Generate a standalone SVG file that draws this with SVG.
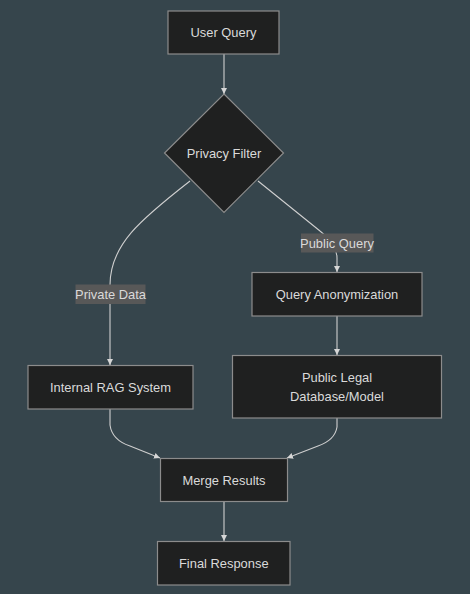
<svg xmlns="http://www.w3.org/2000/svg" width="470" height="594" viewBox="0 0 470 594">
<defs>
<style>
.node rect,.node polygon{fill:#1f2020;stroke:#8c8c8c;stroke-width:1.2}
.lbl{font-family:"Liberation Sans",Arial,sans-serif;font-size:12.9px;fill:#dadada;text-anchor:middle;dominant-baseline:central}
.edge{fill:none;stroke:#cfcfcf;stroke-width:1.1}
.elbl rect{fill:#585858}
</style>
<marker id="arr" viewBox="0 0 10 10" refX="10" refY="5" markerWidth="6" markerHeight="6" orient="auto" markerUnits="userSpaceOnUse">
<path d="M0,0 L10,5 L0,10 z" fill="#d6d6d6"/>
</marker>
</defs>
<rect width="470" height="594" fill="#36454c"/>
<g id="connectors">
<path class="edge" d="M224,54 L224,94" marker-end="url(#arr)"/>
<path class="edge" d="M190,181 C140,220 110,245 110,285 L110,365" marker-end="url(#arr)"/>
<path class="edge" d="M258,181 L320,231 Q337,244 337,258 L337,272" marker-end="url(#arr)"/>
<path class="edge" d="M337,316 L337,355" marker-end="url(#arr)"/>
<path class="edge" d="M110,409 L110,425 Q112,440 130,446 L160,458" marker-end="url(#arr)"/>
<path class="edge" d="M337,418 L337,427 Q335,440 318,446 L287,458" marker-end="url(#arr)"/>
<path class="edge" d="M224,502 L224,541" marker-end="url(#arr)"/>
<g class="elbl"><rect x="301" y="233.5" width="72.5" height="19"/><text class="lbl" x="337" y="243">Public Query</text></g>
<g class="elbl"><rect x="75.5" y="284.5" width="70" height="19.5"/><text class="lbl" x="110.5" y="294.3">Private Data</text></g>
</g>
<g id="user-query" class="node"><rect x="168" y="11" width="111" height="43"/><text class="lbl" x="223.5" y="32.5">User Query</text></g>
<g id="privacy-filter" class="node"><polygon points="224,94 283.5,153 224,212.5 164.5,153"/><text class="lbl" x="224" y="153">Privacy Filter</text></g>
<g id="query-anonymization" class="node"><rect x="252" y="272.5" width="170" height="43.5"/><text class="lbl" x="337" y="294.3">Query Anonymization</text></g>
<g id="internal-rag" class="node"><rect x="28" y="365.5" width="165" height="43.5"/><text class="lbl" x="110.5" y="387.3">Internal RAG System</text></g>
<g id="public-legal" class="node"><rect x="232.5" y="355.5" width="209" height="62.5"/><text class="lbl" x="337" y="377.5">Public Legal</text><text class="lbl" x="337" y="396.5">Database/Model</text></g>
<g id="merge-results" class="node"><rect x="160.5" y="458.5" width="127" height="43"/><text class="lbl" x="224" y="480">Merge Results</text></g>
<g id="final-response" class="node"><rect x="157.5" y="541.5" width="132.5" height="43.5"/><text class="lbl" x="223.8" y="563.3">Final Response</text></g>
</svg>
